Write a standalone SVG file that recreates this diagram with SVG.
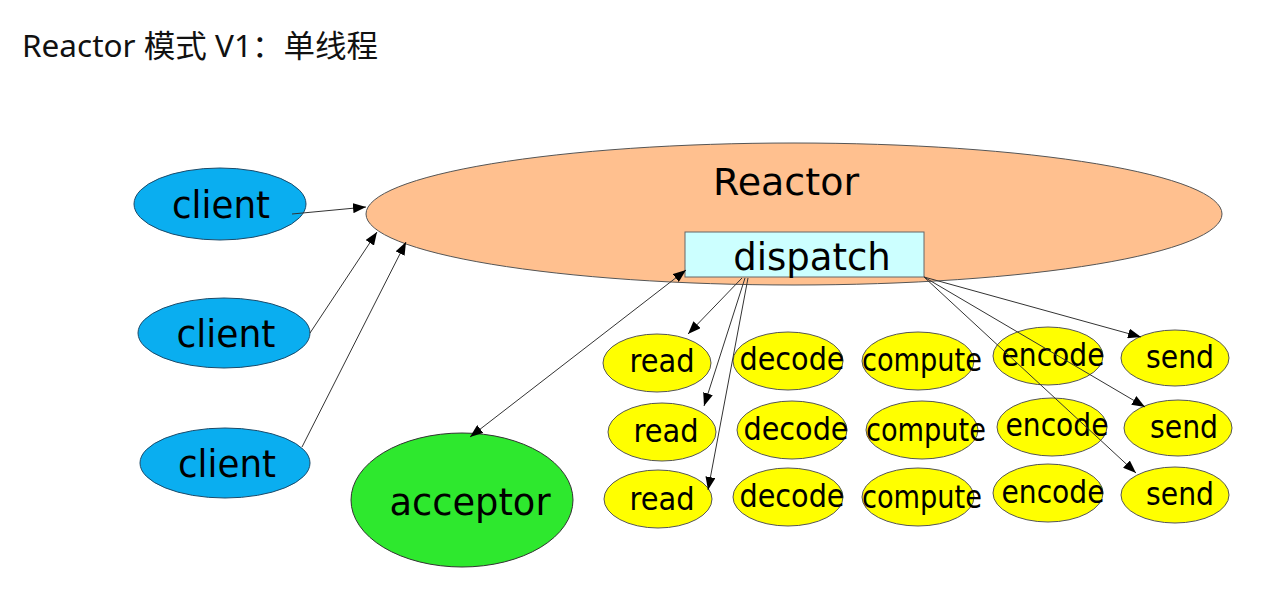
<svg xmlns="http://www.w3.org/2000/svg" width="1275" height="611" viewBox="0 0 1275 611">
<style>
.t{font-family:"DejaVu Sans","Noto Sans",sans-serif;fill:#000;text-anchor:middle}
.title{font-family:"Noto Sans","Noto Sans CJK SC",sans-serif;font-size:31px;fill:#111}
.y{fill:#FFFF00;stroke:#555;stroke-width:1}
.yt{font-size:32px}
.c{fill:#0AAEF0;stroke:#1a4a6a;stroke-width:1}
.ct{font-size:37px}
.e{stroke:#333;stroke-width:1;fill:none}
</style>
<defs>
<marker id="arr" viewBox="0 0 13 10" refX="13" refY="5" markerWidth="13" markerHeight="10" orient="auto-start-reverse" markerUnits="userSpaceOnUse"><path d="M0,0 L13,5 L0,10 z" fill="#000"/></marker>
</defs>
<rect width="1275" height="611" fill="#fff"/>
<text class="title" x="22" y="57" textLength="356" lengthAdjust="spacingAndGlyphs">Reactor 模式 V1：单线程</text>

<g id="reactor">
<ellipse cx="794" cy="214" rx="428" ry="71" fill="#FFC08F" stroke="#555" stroke-width="1"/>
<text class="t" x="786" y="195" font-size="38">Reactor</text>
</g>
<g id="dispatch">
<rect x="685" y="232" width="239" height="45" fill="#CCFFFF" stroke="#666" stroke-width="1"/>
<text class="t" x="812" y="270" font-size="37">dispatch</text>
</g>

<g id="client1"><ellipse class="c" cx="220" cy="204" rx="86" ry="36"/><text class="t ct" x="221" y="218" textLength="98" lengthAdjust="spacingAndGlyphs">client</text></g>
<g id="client2"><ellipse class="c" cx="224" cy="333" rx="86" ry="35"/><text class="t ct" x="226" y="347" textLength="99" lengthAdjust="spacingAndGlyphs">client</text></g>
<g id="client3"><ellipse class="c" cx="225" cy="463" rx="85" ry="35"/><text class="t ct" x="227" y="477" textLength="98" lengthAdjust="spacingAndGlyphs">client</text></g>

<g id="acceptor"><ellipse cx="462" cy="500" rx="111" ry="67" fill="#2EE82E" stroke="#333" stroke-width="1"/><text class="t" x="470" y="515" font-size="37" textLength="161" lengthAdjust="spacingAndGlyphs">acceptor</text></g>

<g id="read1"><ellipse class="y" cx="657" cy="363" rx="54" ry="29"/><text class="t yt" x="662" y="372" textLength="65" lengthAdjust="spacingAndGlyphs">read</text></g>
<g id="decode1"><ellipse class="y" cx="788" cy="361" rx="55" ry="29"/><text class="t yt" x="792" y="370" textLength="105" lengthAdjust="spacingAndGlyphs">decode</text></g>
<g id="compute1"><ellipse class="y" cx="918" cy="361" rx="56" ry="29"/><text class="t yt" x="922" y="371" textLength="120" lengthAdjust="spacingAndGlyphs">compute</text></g>
<g id="encode1"><ellipse class="y" cx="1048" cy="356" rx="55" ry="29"/><text class="t yt" x="1053" y="366" textLength="103" lengthAdjust="spacingAndGlyphs">encode</text></g>
<g id="send1"><ellipse class="y" cx="1175" cy="358" rx="54" ry="28"/><text class="t yt" x="1180" y="368" textLength="68" lengthAdjust="spacingAndGlyphs">send</text></g>

<g id="read2"><ellipse class="y" cx="662" cy="432" rx="54" ry="29"/><text class="t yt" x="666" y="442" textLength="65" lengthAdjust="spacingAndGlyphs">read</text></g>
<g id="decode2"><ellipse class="y" cx="792" cy="430" rx="55" ry="29"/><text class="t yt" x="796" y="440" textLength="105" lengthAdjust="spacingAndGlyphs">decode</text></g>
<g id="compute2"><ellipse class="y" cx="922" cy="430" rx="56" ry="29"/><text class="t yt" x="926" y="441" textLength="120" lengthAdjust="spacingAndGlyphs">compute</text></g>
<g id="encode2"><ellipse class="y" cx="1052" cy="427" rx="55" ry="29"/><text class="t yt" x="1057" y="436" textLength="103" lengthAdjust="spacingAndGlyphs">encode</text></g>
<g id="send2"><ellipse class="y" cx="1178" cy="428" rx="54" ry="28"/><text class="t yt" x="1184" y="438" textLength="68" lengthAdjust="spacingAndGlyphs">send</text></g>

<g id="read3"><ellipse class="y" cx="658" cy="499" rx="54" ry="29"/><text class="t yt" x="662" y="510" textLength="65" lengthAdjust="spacingAndGlyphs">read</text></g>
<g id="decode3"><ellipse class="y" cx="788" cy="497" rx="55" ry="29"/><text class="t yt" x="792" y="507" textLength="105" lengthAdjust="spacingAndGlyphs">decode</text></g>
<g id="compute3"><ellipse class="y" cx="918" cy="497" rx="56" ry="29"/><text class="t yt" x="922" y="508" textLength="120" lengthAdjust="spacingAndGlyphs">compute</text></g>
<g id="encode3"><ellipse class="y" cx="1048" cy="493" rx="55" ry="29"/><text class="t yt" x="1053" y="503" textLength="103" lengthAdjust="spacingAndGlyphs">encode</text></g>
<g id="send3"><ellipse class="y" cx="1175" cy="495" rx="54" ry="28"/><text class="t yt" x="1180" y="505" textLength="68" lengthAdjust="spacingAndGlyphs">send</text></g>

<g id="connectors">
<line class="e" x1="292" y1="214" x2="366" y2="207" marker-end="url(#arr)"/>
<line class="e" x1="310" y1="333" x2="377" y2="232" marker-end="url(#arr)"/>
<line class="e" x1="302" y1="447" x2="406" y2="242" marker-end="url(#arr)"/>
<line class="e" x1="470" y1="437" x2="686" y2="270" marker-start="url(#arr)" marker-end="url(#arr)"/>
<line class="e" x1="742" y1="278" x2="688" y2="334" marker-end="url(#arr)"/>
<line class="e" x1="745" y1="278" x2="704" y2="406" marker-end="url(#arr)"/>
<line class="e" x1="748" y1="278" x2="708" y2="490" marker-end="url(#arr)"/>
<line class="e" x1="924" y1="277" x2="1141" y2="337" marker-end="url(#arr)"/>
<line class="e" x1="924" y1="277" x2="1145" y2="407" marker-end="url(#arr)"/>
<line class="e" x1="924" y1="277" x2="1136" y2="473" marker-end="url(#arr)"/>
</g>
</svg>
